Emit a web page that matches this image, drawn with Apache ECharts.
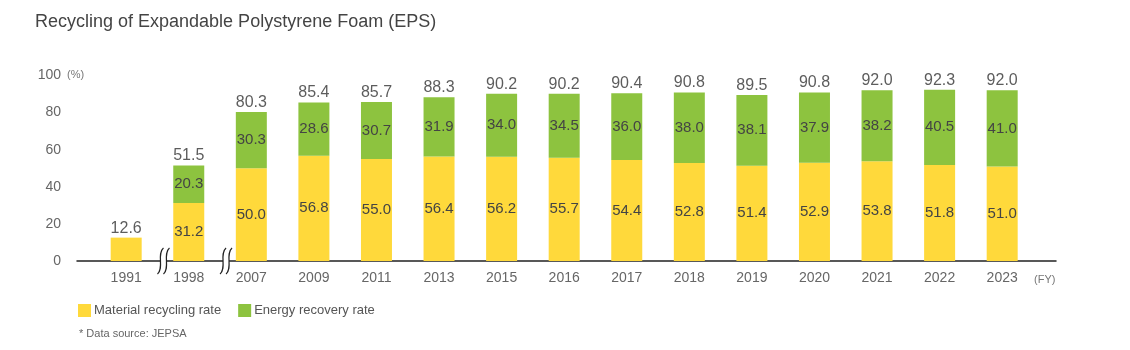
<!DOCTYPE html>
<html><head><meta charset="utf-8">
<script src="https://cdn.jsdelivr.net/npm/echarts@6/dist/echarts.min.js"></script>
<style>html,body{margin:0;padding:0;background:#fff}#c{width:1130px;height:350px}</style>
</head><body><div id="c"></div>
<script>
const years = ['1991','1998','2007','2009','2011','2013','2015','2016','2017','2018','2019','2020','2021','2022','2023'];
const materialRate = [12.6,31.2,50.0,56.8,55.0,56.4,56.2,55.7,54.4,52.8,51.4,52.9,53.8,51.8,51.0];
const energyRate = [null,20.3,30.3,28.6,30.7,31.9,34.0,34.5,36.0,38.0,38.1,37.9,38.2,40.5,41.0];
const totalRate = [12.6,51.5,80.3,85.4,85.7,88.3,90.2,90.2,90.4,90.8,89.5,90.8,92.0,92.3,92.0];
const breakAfter = [0, 1]; // axis breaks after these category indices

const FONT = "'Liberation Sans', Arial, sans-serif";
const chart = echarts.init(document.getElementById('c'));
const idx = years.map((_, i) => i);

const option = {
  animation: false,
  textStyle: { fontFamily: FONT },
  title: {
    text: 'Recycling of Expandable Polystyrene Foam (EPS)',
    left: 30, top: 8,
    textStyle: { fontSize: 18, fontWeight: 'normal', color: '#444', fontFamily: FONT }
  },
  legend: {
    left: 78, top: 304, padding: 0,
    itemWidth: 13, itemHeight: 13, itemGap: 17, icon: 'rect',
    textStyle: { fontSize: 13, color: '#555', fontFamily: FONT, padding: [0, 0, 0, -2] },
    data: ['Material recycling rate', 'Energy recovery rate']
  },
  grid: { left: 77, right: 74, top: 75.5, bottom: 89 },
  xAxis: {
    type: 'value', min: -0.786, max: 14.86,
    axisLine: { show: true, onZero: false, lineStyle: { color: '#222', width: 1.5 } },
    axisTick: { show: false },
    splitLine: { show: false },
    axisLabel: {
      customValues: idx,
      formatter: v => years[Math.round(v)],
      fontSize: 14, color: '#666', margin: 10, fontFamily: FONT
    }
  },
  yAxis: {
    type: 'value', min: 0, max: 100, interval: 20,
    axisLine: { show: false }, axisTick: { show: false }, splitLine: { show: false },
    axisLabel: { fontSize: 14, color: '#666', margin: 16, fontFamily: FONT }
  },
  graphic: [
    { type: 'text', left: 67, top: 69, style: { text: '(%)', fontSize: 11, fill: '#777', fontFamily: FONT } },
    { type: 'text', left: 1034, top: 274, style: { text: '(FY)', fontSize: 11, fill: '#777', fontFamily: FONT } },
    { type: 'text', left: 79, top: 328, style: { text: '* Data source: JEPSA', fontSize: 11, fill: '#666', fontFamily: FONT } }
  ],
  series: [
    {
      name: 'Material recycling rate', type: 'bar', stack: 'rate', barWidth: 31,
      itemStyle: { color: '#FFD93B' },
      encode: { x: 1, y: 0 },
      data: idx.map(i => [materialRate[i], i]),
      label: {
        show: true, position: 'inside', fontSize: 15, color: '#444', fontFamily: FONT,
        formatter: p => energyRate[p.dataIndex] == null ? '' : materialRate[p.dataIndex].toFixed(1)
      }
    },
    {
      name: 'Energy recovery rate', type: 'bar', stack: 'rate', barWidth: 31,
      itemStyle: { color: '#8DC33F' },
      encode: { x: 1, y: 0 },
      data: idx.map(i => [energyRate[i], i]),
      label: {
        show: true, position: 'inside', fontSize: 15, color: '#444', fontFamily: FONT,
        formatter: p => energyRate[p.dataIndex] == null ? '' : energyRate[p.dataIndex].toFixed(1)
      }
    },
    {
      name: 'total', type: 'scatter', symbolSize: 1,
      itemStyle: { color: 'rgba(0,0,0,0)' },
      data: idx.map(i => [i, totalRate[i]]),
      label: {
        show: true, position: 'top', distance: 1, fontSize: 16, color: '#333', fontFamily: FONT,
        formatter: p => totalRate[p.dataIndex].toFixed(1)
      },
      silent: true
    },
    {
      name: 'break', type: 'custom', silent: true, z: 10,
      data: breakAfter.map(i => [i + 0.5]),
      renderItem: (params, api) => {
        const p = api.coord([api.value(0), 0]);
        const cx = p[0] + 6, cy = p[1];
        const s = (x) => ({
          type: 'path',
          shape: { pathData: `M${x + 3},${cy - 13} C${x - 4},${cy - 7} ${x + 4},${cy + 7} ${x - 3},${cy + 13}` },
          style: { fill: 'none', stroke: '#222', lineWidth: 1.2 }
        });
        return {
          type: 'group',
          children: [
            { type: 'rect', shape: { x: cx - 3, y: cy - 2, width: 6, height: 4 }, style: { fill: '#fff' } },
            s(cx - 3), s(cx + 3)
          ]
        };
      }
    }
  ]
};
chart.setOption(option);
</script>
</body></html>
